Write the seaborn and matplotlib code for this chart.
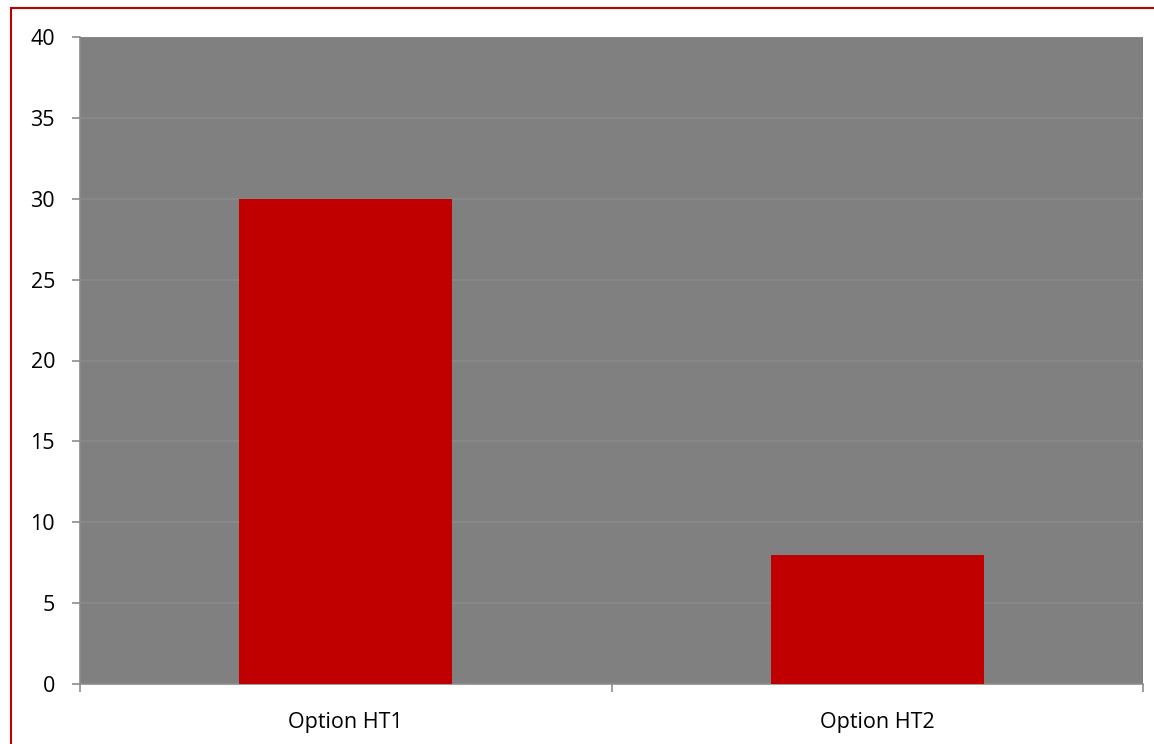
import matplotlib
matplotlib.use("Agg")
import matplotlib.pyplot as plt
from matplotlib.patches import Rectangle
import seaborn as sns
import pandas as pd

categories = ["Option HT1", "Option HT2"]
values = [30, 8]
y_ticks = [0, 5, 10, 15, 20, 25, 30, 35, 40]

sns.set_theme(style="white")
plt.rcParams['font.family'] = ['Open Sans', 'DejaVu Sans']

W, H, DPI = 1154, 744, 100
fig = plt.figure(figsize=(W / DPI, H / DPI), dpi=DPI)
ax = fig.add_axes([80 / W, 1 - 684 / H, (1143 - 80) / W, (684 - 37) / H])

df = pd.DataFrame({"cat": categories, "val": values})
sns.barplot(data=df, x="cat", y="val", color="#C00000", width=0.4,
            saturation=1, linewidth=0, edgecolor="none", ax=ax, zorder=3)

ax.set_facecolor("#808080")
ax.set_ylim(0, 40)
ax.set_xlim(-0.5, 1.5)
ax.set_yticks(y_ticks)
ax.yaxis.grid(True, color="#8A8A8A", linewidth=1.2, zorder=0)
ax.set_axisbelow(True)
ax.set_xlabel("")
ax.set_ylabel("")

for s in ["top", "right"]:
    ax.spines[s].set_visible(False)
for s in ["left", "bottom"]:
    ax.spines[s].set_color("#8C8C8C")
    ax.spines[s].set_linewidth(1.2)

ax.tick_params(axis="y", which="major", length=6, width=1.2, color="#8C8C8C",
               labelsize=15.5, labelcolor="black", pad=12, left=True)
ax.set_xticks([0, 1])
ax.set_xticklabels(categories)
ax.set_xticks([-0.5, 0.5, 1.5], minor=True)
ax.tick_params(axis="x", which="major", length=0, labelsize=15.5,
               labelcolor="black", pad=20)
ax.tick_params(axis="x", which="minor", length=6, width=1.2, color="#8C8C8C",
               bottom=True)

border = Rectangle((11.5 / W, -0.05), 1.2, 1 - 7.5 / H + 0.05,
                   transform=fig.transFigure, fill=False,
                   edgecolor="#C00000", linewidth=1.5, clip_on=False)
fig.patches.append(border)

fig.savefig("out.png", dpi=DPI, facecolor="white")
